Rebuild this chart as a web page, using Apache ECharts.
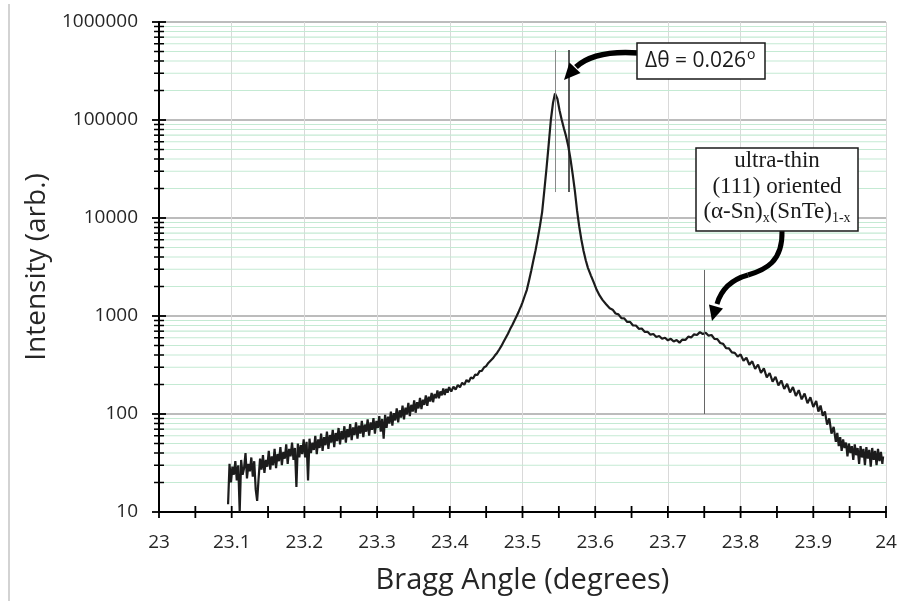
<!DOCTYPE html>
<html><head><meta charset="utf-8">
<script src="https://cdn.jsdelivr.net/npm/echarts/dist/echarts.min.js"></script>
<style>html,body{margin:0;padding:0;background:#fff}#c{width:900px;height:601px}</style>
</head><body><div id="c"></div>
<script>
// ---- data (angle in degrees, intensity arb.) ----
const leftTail = [[23.095,12],[23.097,31],[23.099,20],[23.101,29],[23.103,24],[23.105,33],[23.107,21],[23.109,30],[23.111,10],[23.113,34],[23.115,24],[23.117,28],[23.119,40],[23.121,22],[23.123,31],[23.125,26],[23.127,36],[23.129,23],[23.131,33],[23.133,17],[23.135,13],[23.137,22],[23.139,35],[23.141,27],[23.143,38],[23.145,25],[23.147,34],[23.149,29],[23.151,42],[23.153,27],[23.155,37],[23.157,30],[23.159,44],[23.161,28],[23.163,39],[23.165,33],[23.167,46],[23.169,30],[23.171,41],[23.173,35],[23.175,49],[23.177,31],[23.179,44],[23.181,37],[23.183,51],[23.185,34],[23.187,45],[23.189,18],[23.191,50],[23.193,36],[23.195,48],[23.197,39],[23.199,55],[23.201,36],[23.203,52],[23.205,21],[23.207,56],[23.209,40],[23.211,51],[23.213,43],[23.215,60],[23.217,39],[23.219,55],[23.221,45],[23.223,63],[23.225,42],[23.227,58],[23.229,48],[23.231,66],[23.233,44],[23.235,61],[23.237,51],[23.239,69],[23.241,46],[23.243,64],[23.245,53],[23.247,72],[23.249,49],[23.251,67],[23.253,55],[23.255,75],[23.257,51],[23.259,70],[23.261,58],[23.263,79],[23.265,54],[23.267,73],[23.269,61],[23.271,82],[23.273,56],[23.275,76],[23.277,63],[23.279,85],[23.281,58],[23.283,78],[23.285,66],[23.287,88],[23.289,60],[23.291,82],[23.293,69],[23.295,91],[23.297,63],[23.299,85],[23.301,72],[23.303,95],[23.305,66],[23.307,89],[23.309,56],[23.311,98],[23.313,72],[23.315,94],[23.317,80],[23.319,106],[23.321,76],[23.323,102],[23.325,86],[23.327,114],[23.329,82],[23.331,109],[23.333,92],[23.335,122],[23.337,88],[23.339,116],[23.341,99],[23.343,130],[23.345,95],[23.347,124],[23.349,106],[23.351,138],[23.353,103],[23.355,132],[23.357,114],[23.359,146],[23.361,112],[23.363,140],[23.365,124],[23.367,155],[23.369,121],[23.371,150],[23.373,134],[23.375,164],[23.377,132],[23.379,160],[23.381,145],[23.383,174],[23.385,145],[23.387,170],[23.389,155],[23.391,182],[23.393,156],[23.395,180],[23.397,165],[23.399,188]];
const riseSide = [[23.402,170],[23.405,190],[23.408,178],[23.411,198],[23.414,188],[23.417,208],[23.420,199],[23.423,222],[23.426,212],[23.429,236],[23.432,230],[23.435,252],[23.438,250],[23.441,274],[23.444,275],[23.447,298],[23.450,308],[23.453,332],[23.456,350],[23.459,368],[23.462,395],[23.465,420],[23.468,455],[23.471,495],[23.474,545],[23.477,600],[23.480,660],[23.483,735],[23.486,810],[23.489,900],[23.492,1000],[23.495,1120],[23.498,1260],[23.500,1380]];
const mainPeak = [[23.503,1600],[23.506,1850],[23.509,2300],[23.512,2900],[23.515,3700],[23.518,4700],[23.521,6200],[23.524,8300],[23.527,11500],[23.530,19000],[23.533,32000],[23.536,56000],[23.539,100000],[23.542,150000],[23.5447,186000],[23.548,165000],[23.551,125000],[23.554,100000],[23.557,82000],[23.560,68000],[23.563,54000],[23.566,40000],[23.569,28000],[23.572,19000],[23.575,12000],[23.578,8200],[23.581,6000],[23.584,4600],[23.587,3700],[23.590,3100],[23.594,2600],[23.598,2200],[23.602,1850],[23.606,1620],[23.610,1460],[23.615,1320],[23.620,1200]];
const filmBump = [[23.624,1160],[23.628,1060],[23.632,1040],[23.636,950],[23.640,945],[23.644,870],[23.648,870],[23.652,800],[23.656,800],[23.660,740],[23.664,745],[23.668,690],[23.672,690],[23.676,645],[23.680,655],[23.684,610],[23.688,625],[23.692,585],[23.696,600],[23.700,565],[23.704,585],[23.708,550],[23.712,568],[23.716,535],[23.720,575],[23.724,570],[23.728,615],[23.732,605],[23.736,650],[23.740,640],[23.744,685],[23.748,655],[23.752,675],[23.756,630],[23.760,640],[23.764,585],[23.768,580],[23.772,530],[23.776,520],[23.780,470],[23.784,468],[23.788,425],[23.792,420],[23.796,385]];
const rightTail = [[23.800,405],[23.804,350],[23.808,375],[23.812,318],[23.816,345],[23.820,288],[23.824,320],[23.828,262],[23.832,292],[23.836,236],[23.840,262],[23.844,214],[23.848,240],[23.852,196],[23.856,220],[23.860,180],[23.864,203],[23.868,166],[23.872,188],[23.876,153],[23.880,175],[23.884,141],[23.888,162],[23.892,129],[23.896,148],[23.900,118],[23.904,136],[23.907,106],[23.910,122],[23.913,96],[23.916,106],[23.919,78],[23.922,90],[23.925,63],[23.928,74],[23.931,52],[23.933,64],[23.935,47],[23.937,58],[23.939,42],[23.941,55],[23.943,45],[23.945,51],[23.947,37],[23.949,50],[23.951,40],[23.953,47],[23.955,34],[23.957,49],[23.959,38],[23.961,45],[23.963,31],[23.965,47],[23.967,36],[23.969,44],[23.971,30],[23.973,46],[23.975,35],[23.977,43],[23.979,29],[23.981,45],[23.983,34],[23.985,42],[23.987,30],[23.989,44],[23.991,33],[23.993,41],[23.995,31],[23.996,37]];

// marker lines (angle, [top, bottom] intensity)
const peakLines = [23.5456, 23.5631];
const peakLineSpan = [518000, 18400];
const filmLine = 23.7506;
const filmLineSpan = [2950, 100];

// axes
const xMin = 23, xMax = 24, xStep = 0.1, xMinorStep = 0.05;
const yDecades = [10, 100, 1000, 10000, 100000, 1000000];
const yMinorMultipliers = [2, 3, 4, 5, 6, 7, 8, 9];

const deltaLabel = 'Δθ = 0.026';
const filmLabel = ['ultra-thin', '(111) oriented'];

const chart = echarts.init(document.getElementById('c'), null, {renderer: 'canvas'});
const allData = [].concat(leftTail, riseSide, mainPeak, filmBump, rightTail);

const option = {
  animation: false,
  backgroundColor: '#ffffff',
  grid: {left: 159, right: 14, top: 22, bottom: 89, containLabel: false},
  xAxis: {
    type: 'value', min: xMin, max: xMax, interval: xStep,
    name: 'Bragg Angle (degrees)', nameLocation: 'middle', nameGap: 54,
    nameTextStyle: {fontFamily: 'Open Sans', fontSize: 29, color: '#262626'},
    axisLine: {show: true, onZero: false, lineStyle: {color: '#000', width: 2}},
    axisTick: {show: false},
    axisLabel: {fontFamily: 'Open Sans', fontSize: 19, color: '#262626', margin: 21},
    splitLine: {show: true, lineStyle: {color: '#d9d9d9', width: 1}}
  },
  yAxis: {
    type: 'log', logBase: 10, min: yDecades[0], max: yDecades[yDecades.length - 1], splitNumber: 5,
    name: 'Intensity (arb.)', nameLocation: 'middle', nameGap: 103, nameRotate: 90,
    nameTextStyle: {fontFamily: 'Open Sans', fontSize: 28, color: '#262626'},
    axisLine: {show: true, lineStyle: {color: '#000', width: 2}},
    axisTick: {show: false},
    axisLabel: {fontFamily: 'Open Sans', fontSize: 19, color: '#262626', margin: 21,
      formatter: v => String(Math.round(v))},
    splitLine: {show: true, lineStyle: {color: '#a6a6a6', width: 1.5}}
  },
  series: [{
    type: 'line', data: allData, symbol: 'none', showSymbol: false, z: 3,
    lineStyle: {color: '#1c1c1c', width: 2.2},
    markLine: {
      silent: true, symbol: ['none', 'none'], label: {show: false},
      data: [
        [{coord: [peakLines[0], peakLineSpan[0]], lineStyle: {color: '#8a8a8a', width: 1, type: 'solid'}}, {coord: [peakLines[0], peakLineSpan[1]]}],
        [{coord: [peakLines[1], peakLineSpan[0]], lineStyle: {color: '#222', width: 1.5, type: 'solid'}}, {coord: [peakLines[1], peakLineSpan[1]]}],
        [{coord: [filmLine, filmLineSpan[0]], lineStyle: {color: '#666', width: 1, type: 'solid'}}, {coord: [filmLine, filmLineSpan[1]]}]
      ]
    }
  }]
};
chart.setOption(option);

function px(x, y) { return chart.convertToPixel({gridIndex: 0}, [x, y]); }
const g = [];
const [xl, yb] = px(xMin, yDecades[0]);
const [xr, yt] = px(xMax, yDecades[yDecades.length - 1]);
// minor (green) gridlines and y ticks
for (let i = 0; i < yDecades.length - 1; i++) {
  for (const m of yMinorMultipliers) {
    const y = px(xMin, yDecades[i] * m)[1];
    g.push({type: 'line', z: 1, silent: true, shape: {x1: xl + 1, y1: y, x2: xr, y2: y}, style: {stroke: '#c4ead3', lineWidth: 1.2}});
    g.push({type: 'line', z: 6, silent: true, shape: {x1: xl - 5, y1: y, x2: xl + 5, y2: y}, style: {stroke: '#000', lineWidth: 1.5}});
  }
}
for (const d of yDecades) {
  const y = px(xMin, d)[1];
  g.push({type: 'line', z: 6, silent: true, shape: {x1: xl - 7, y1: y, x2: xl + 7, y2: y}, style: {stroke: '#000', lineWidth: 1.8}});
}
// x ticks (crossing the axis)
const nX = Math.round((xMax - xMin) / xMinorStep);
for (let i = 0; i <= nX; i++) {
  const x = px(xMin + i * xMinorStep, yDecades[0])[0];
  g.push({type: 'line', z: 6, silent: true, shape: {x1: x, y1: yb - 6, x2: x, y2: yb + 6}, style: {stroke: '#000', lineWidth: 1.8}});
}
// left page border
g.push({type: 'line', z: 6, silent: true, shape: {x1: 9, y1: 4, x2: 9, y2: 601}, style: {stroke: '#c4c4c4', lineWidth: 1.5}});

// annotation 1: delta theta
g.push({type: 'bezierCurve', z: 10, silent: true, shape: {x1: 639, y1: 53, cpx1: 612, cpy1: 51, cpx2: 590, cpy2: 54, x2: 576, y2: 67}, style: {fill: null, stroke: '#000', lineWidth: 5.5}});
g.push({type: 'polygon', z: 10, silent: true, shape: {points: [[564, 80], [580.5, 73], [569.5, 62.5]]}, style: {fill: '#000'}});
g.push({type: 'rect', z: 10, silent: true, shape: {x: 637, y: 43, width: 128, height: 36}, style: {fill: '#fff', stroke: '#1a1a1a', lineWidth: 1.5}});
g.push({type: 'text', z: 11, silent: true, x: 645, y: 61, style: {
  text: '{a|' + deltaLabel + '}{o|o}', textAlign: 'left', textVerticalAlign: 'middle',
  rich: {
    a: {fontFamily: 'Open Sans', fontSize: 21, fill: '#1a1a1a', lineHeight: 26, verticalAlign: 'middle'},
    o: {fontFamily: 'Open Sans', fontSize: 14, fill: '#1a1a1a', lineHeight: 26, verticalAlign: 'top', padding: [0, 0, 0, 1]}
  }}});

// annotation 2: film
g.push({type: 'bezierCurve', z: 10, silent: true, shape: {x1: 782, y1: 231, cpx1: 783, cpy1: 262, cpx2: 765, cpy2: 270, x2: 748, y2: 275}, style: {fill: null, stroke: '#000', lineWidth: 5}});
g.push({type: 'bezierCurve', z: 10, silent: true, shape: {x1: 748, y1: 275, cpx1: 730, cpy1: 280, cpx2: 721, cpy2: 290, x2: 717, y2: 304}, style: {fill: null, stroke: '#000', lineWidth: 5}});
g.push({type: 'polygon', z: 10, silent: true, shape: {points: [[712, 321], [723, 308.5], [709, 304.5]]}, style: {fill: '#000'}});
g.push({type: 'rect', z: 10, silent: true, shape: {x: 696, y: 148, width: 162, height: 83}, style: {fill: '#fff', stroke: '#1a1a1a', lineWidth: 1.5}});
g.push({type: 'text', z: 11, silent: true, x: 777, y: 161, style: {text: filmLabel[0], fontFamily: 'Liberation Serif', fontSize: 23, fill: '#1a1a1a', textAlign: 'center', textVerticalAlign: 'middle'}});
g.push({type: 'text', z: 11, silent: true, x: 777, y: 187, style: {text: filmLabel[1], fontFamily: 'Liberation Serif', fontSize: 23, fill: '#1a1a1a', textAlign: 'center', textVerticalAlign: 'middle'}});
g.push({type: 'text', z: 11, silent: true, x: 777, y: 212, style: {
  text: '{n|(α-Sn)}{s|x}{n|(SnTe)}{s|1-x}', textAlign: 'center', textVerticalAlign: 'middle',
  rich: {
    n: {fontFamily: 'Liberation Serif', fontSize: 23, fill: '#1a1a1a', lineHeight: 26, verticalAlign: 'middle'},
    s: {fontFamily: 'Liberation Serif', fontSize: 14, fill: '#1a1a1a', lineHeight: 26, verticalAlign: 'bottom'}
  }}});

chart.setOption({graphic: {elements: g}});
</script></body></html>
